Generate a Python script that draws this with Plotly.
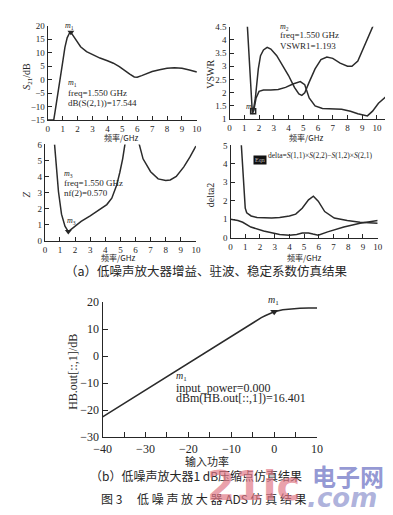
import plotly.graph_objects as go

# ---------------- data ----------------
s21_freq = [0.0, 0.4, 0.5, 0.65, 0.82, 1.0, 1.15, 1.3, 1.45, 1.55, 1.7, 1.85, 2.0, 2.2, 2.6, 3.0, 3.5, 4.0, 4.4, 4.8, 5.2, 5.5, 5.8, 6.0, 6.3, 7.0, 7.5, 8.0, 8.5, 9.0, 9.5, 10.0]
s21_db = [-15, -15, -11.5, -5.5, 0, 6.5, 12, 15.5, 17.2, 17.544, 16.3, 15.0, 13.6, 12.2, 10.4, 9.2, 8.0, 7.0, 6.1, 4.8, 3.1, 2.0, 1.0, 0.9, 1.5, 3.0, 3.7, 4.2, 4.4, 4.2, 3.6, 2.8]

vswr1_freq = [1.2, 1.3, 1.4, 1.5, 1.55, 1.65, 1.8, 2.0, 2.3, 2.8, 3.3, 3.8, 4.3, 4.8, 5.1, 5.4, 5.8, 6.3, 7.0, 7.6, 8.2, 8.7, 9.35, 9.7, 10.1, 10.6]
vswr1 = [4.6, 3.6, 2.4, 1.4, 1.193, 1.35, 1.8, 2.05, 2.1, 2.1, 2.12, 2.2, 2.33, 2.42, 2.3, 1.8, 1.5, 1.4, 1.38, 1.37, 1.3, 1.2, 1.12, 1.3, 1.6, 1.85]
vswr2_freq = [1.55, 1.65, 1.75, 1.85, 1.95, 2.1, 2.3, 2.55, 2.8, 3.2, 3.6, 4.0, 4.4, 4.7, 4.9, 5.1, 5.4, 5.8, 6.2, 6.6, 7.0, 7.5, 8.0, 8.3, 8.7, 9.1, 9.5, 9.75]
vswr2 = [1.3, 1.45, 1.8, 2.4, 2.9, 3.4, 3.62, 3.72, 3.65, 3.4, 3.05, 2.65, 2.2, 1.95, 1.9, 2.0, 2.4, 2.9, 3.25, 3.35, 3.3, 3.12, 3.0, 3.0, 3.2, 3.7, 4.2, 4.55]

nf_freq = [0.64, 0.8, 0.9, 1.1, 1.33, 1.55, 1.97, 2.4, 3.0, 3.5, 4.1, 4.43, 4.75, 4.96, 5.15, 5.3, 5.6, 6.0, 6.25, 6.5, 7.0, 7.5, 8.0, 8.3, 8.7, 9.2, 9.6, 10.0]
nf_val = [6.0, 4.1, 3.05, 1.65, 0.9, 0.57, 0.9, 1.2, 1.55, 1.85, 2.25, 2.65, 3.45, 4.25, 5.1, 6.0, 8.0, 8.0, 6.0, 5.1, 4.3, 3.85, 3.75, 3.78, 4.0, 4.6, 5.2, 5.9]

d_hi_freq = [0.72, 0.8, 0.9, 1.0, 1.1, 1.4, 1.8, 2.25, 2.8, 3.34, 4.0, 4.43, 4.87, 5.3, 5.63, 5.96, 6.4, 7.05, 7.93, 8.8, 9.45, 10.0]
d_hi = [5.2, 4.0, 2.5, 1.6, 1.35, 1.18, 1.1, 1.07, 1.07, 1.1, 1.18, 1.28, 1.6, 2.05, 2.25, 1.98, 1.42, 1.07, 0.93, 0.84, 0.8, 0.79]
d_lo_freq = [0.0, 0.5, 0.83, 1.38, 2.25, 3.34, 4.0, 4.5, 4.87, 5.3, 5.6, 5.96, 6.6, 7.7, 8.8, 9.45, 10.0]
d_lo = [1.0, 0.93, 0.84, 0.58, 0.37, 0.18, 0.14, 0.18, 0.26, 0.26, 0.2, 0.14, 0.32, 0.58, 0.79, 0.88, 0.93]

pin = [-40, -35, -30, -25, -20, -15, -10, -5, -3, -2, -1, 0, 2, 4, 6, 8, 10]
pout = [-22.5, -17.5, -12.5, -7.5, -2.5, 2.5, 7.5, 12.3, 14.2, 15.0, 15.8, 16.401, 17.1, 17.5, 17.7, 17.8, 17.8]

# ---------------- layout helpers ----------------
W, H = 393, 515
SERIF = "Liberation Serif, DejaVu Serif, Noto Sans CJK SC"
CJK = "Noto Sans CJK SC"
INK = "#262626"
LINE = dict(color="#2b2b2b", width=1.5)


def px(x):
    return x / W


def py(y):
    return 1 - y / H


def axis(dom, rng, dtick, fs=9, minor=None, anchor=None, ticklen=4):
    d = dict(domain=dom, range=rng, dtick=dtick, tick0=0, showgrid=False, zeroline=False,
             showline=True, linecolor=INK, linewidth=1.3, ticks="inside", ticklen=ticklen,
             tickcolor=INK, tickwidth=1.2, tickfont=dict(family=SERIF, size=fs, color=INK),
             anchor=anchor, fixedrange=True)
    if minor:
        d["minor"] = dict(dtick=minor, ticks="inside", ticklen=ticklen, tickcolor=INK, tickwidth=1.2)
    return d


fig = go.Figure()

# subplot 1: S21
fig.add_trace(go.Scatter(x=s21_freq, y=s21_db, mode="lines", line=LINE, xaxis="x", yaxis="y"))
fig.add_trace(go.Scatter(x=[1.55], y=[17.544], mode="markers", marker=dict(symbol="triangle-down", size=6, color=INK), xaxis="x", yaxis="y"))
# subplot 2: VSWR
fig.add_trace(go.Scatter(x=vswr1_freq, y=vswr1, mode="lines", line=LINE, xaxis="x2", yaxis="y2"))
fig.add_trace(go.Scatter(x=vswr2_freq, y=vswr2, mode="lines", line=LINE, xaxis="x2", yaxis="y2"))
fig.add_trace(go.Scatter(x=[1.6], y=[1.3], mode="markers", marker=dict(symbol="square-open", size=5, color=INK, line=dict(width=1.5)), xaxis="x2", yaxis="y2"))
# subplot 3: NF
fig.add_trace(go.Scatter(x=nf_freq, y=nf_val, mode="lines", line=LINE, xaxis="x3", yaxis="y3"))
fig.add_trace(go.Scatter(x=[1.55], y=[0.57], mode="markers", marker=dict(symbol="triangle-down", size=6, color=INK), xaxis="x3", yaxis="y3"))
# subplot 4: delta
fig.add_trace(go.Scatter(x=d_hi_freq, y=d_hi, mode="lines", line=LINE, xaxis="x4", yaxis="y4"))
fig.add_trace(go.Scatter(x=d_lo_freq, y=d_lo, mode="lines", line=LINE, xaxis="x4", yaxis="y4"))
# subplot 5: compression
fig.add_trace(go.Scatter(x=pin, y=pout, mode="lines", line=LINE, xaxis="x5", yaxis="y5"))
fig.add_trace(go.Scatter(x=[0], y=[16.401], mode="markers", marker=dict(symbol="triangle-down", size=7, color=INK), xaxis="x5", yaxis="y5"))

fig.update_layout(
    width=W, height=H, margin=dict(l=0, r=0, t=0, b=0),
    paper_bgcolor="white", plot_bgcolor="white", showlegend=False,
    xaxis=axis([px(32), px(187)], [0, 10], 1, anchor="y"),
    yaxis=axis([py(108), py(11)], [-15, 20], 5, anchor="x"),
    xaxis2=axis([px(221), px(385)], [0, 10.7], 1, anchor="y2"),
    yaxis2=axis([py(107), py(12)], [1, 4.5], 0.5, anchor="x2"),
    xaxis3=axis([px(29), px(186)], [0, 10], 1, anchor="y3"),
    yaxis3=axis([py(232), py(133)], [0, 6], 1, anchor="x3"),
    xaxis4=axis([px(222), px(375)], [0, 10], 1, anchor="y4"),
    yaxis4=axis([py(229), py(134)], [0, 5], 1, anchor="x4"),
    xaxis5=axis([px(89), px(312)], [-40, 10], 10, fs=12, minor=5, anchor="y5", ticklen=5),
    yaxis5=axis([py(434), py(295)], [-30, 20], 10, fs=12, anchor="x5", ticklen=5),
)

ann = []


def txt(x, y, s, size=9, font=SERIF, angle=0, xa="center", ya="middle", color=INK):
    ann.append(dict(x=px(x), y=py(y), xref="paper", yref="paper", text=s, showarrow=False,
                    xanchor=xa, yanchor=ya, textangle=angle,
                    font=dict(family=font, size=size, color=color)))


# axis titles
txt(11, 63, "<i>S</i><sub>21</sub>/dB", 10, angle=-90)
txt(201, 61, "VSWR", 10, angle=-90)
txt(10, 185, "<i>Z</i>", 10, angle=-90)
txt(202, 185, "delta2", 10, angle=-90)
txt(58, 367, "HB.out[::,1]/dB", 12, angle=-90)
txt(108, 126, "频率/GHz", 8, font=CJK)
txt(300, 126, "频率/GHz", 8, font=CJK)
txt(105, 249, "频率/GHz", 8, font=CJK)
txt(298, 249, "频率/GHz", 8, font=CJK)
txt(198, 458, "输入功率", 11, font=CJK)

# marker readouts
txt(55, 11, "<i>m</i><sub>1</sub>", 8)
txt(51, 70, "<i>m</i><sub>1</sub>", 8, xa="left")
txt(51, 80, "freq=1.550 GHz", 9, xa="left")
txt(51, 90, "dB(S(2,1))=17.544", 9, xa="left")

txt(271, 12, "<i>m</i><sub>2</sub>", 8, xa="left")
txt(271, 21, "freq=1.550 GHz", 9, xa="left")
txt(271, 32, "VSWR1=1.193", 9, xa="left")
txt(236, 95, "<i>m</i><sub>2</sub>", 8, xa="left")

txt(47, 163, "<i>m</i><sub>3</sub>", 8, xa="left")
txt(47, 173, "freq=1.550 GHz", 9, xa="left")
txt(47, 183, "nf(2)=0.570", 9, xa="left")
txt(50, 212, "<i>m</i><sub>3</sub>", 8, xa="left")

txt(259, 144, "delta=<i>S</i>(1,1)×<i>S</i>(2,2)−<i>S</i>(1,2)×<i>S</i>(2,1)", 7.5, xa="left")
ann.append(dict(x=px(253), y=py(144), xref="paper", yref="paper", text="Eqn", showarrow=False,
                bgcolor="#111", font=dict(family=SERIF, size=6, color="#bbb"), borderpad=1))

txt(267, 293, "<i>m</i><sub>1</sub>", 10)
txt(163, 372, "<i>m</i><sub>1</sub>", 10, xa="left")
txt(163, 383, "input_power=0.000", 12, xa="left")
txt(163, 394, "dBm(HB.out[::,1])=16.401", 12, xa="left")

# captions
txt(197, 263, "（a）低噪声放大器增益、驻波、稳定系数仿真结果", 12.5, font=CJK)
txt(186, 473, "（b）低噪声放大器1 dB压缩点仿真结果", 12, font=CJK)
txt(194, 497, "图 3　 低 噪 声 放 大 器 ADS 仿 真 结 果", 12, font=CJK)

# watermark
txt(246, 484, "<b>21ic</b>", 40, font="DejaVu Sans", color="rgba(225,120,135,0.7)")
txt(344, 473, "<b>电子网</b>", 24, font=CJK, color="rgba(120,125,200,0.8)")
txt(338, 496, "<b><i>.com</i></b>", 26, font="DejaVu Sans", color="rgba(140,145,205,0.7)")

fig.update_layout(annotations=ann)
fig.write_html("out.html")
